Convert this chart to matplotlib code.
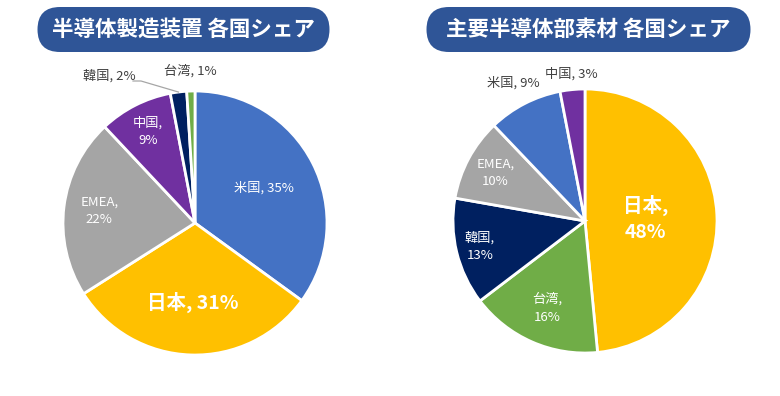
import numpy as np
import matplotlib

matplotlib.use("Agg")
import matplotlib.pyplot as plt
from matplotlib.patches import FancyBboxPatch

plt.rcParams["font.family"] = ["Noto Sans CJK JP", "DejaVu Sans"]

# --- data ---
equip_title = "半導体製造装置 各国シェア"
equip_labels = ["米国", "日本", "EMEA", "中国", "韓国", "台湾"]
equip_values = [35, 31, 22, 9, 2, 1]

material_title = "主要半導体部素材 各国シェア"
material_labels = ["日本", "台湾", "韓国", "EMEA", "米国", "中国"]
material_values = [48, 16, 13, 10, 9, 3]

COLORS = {
    "米国": "#4472C4",
    "日本": "#FFC000",
    "EMEA": "#A5A5A5",
    "中国": "#7030A0",
    "韓国": "#002060",
    "台湾": "#70AD47",
}
PILL = "#2F5597"
DARK = "#404040"

W, H = 780, 396
R = 132


def draw_pie(ax, center, labels, values, label_style):
    wedges, _ = ax.pie(
        values,
        colors=[COLORS[l] for l in labels],
        startangle=90,
        counterclock=False,
        center=center,
        radius=R,
        wedgeprops=dict(edgecolor="white", linewidth=2),
        frame=True,
    )
    for w, lab, val in zip(wedges, labels, values):
        frac, text, big, inside, dx, dy = label_style[lab]
        ang = np.deg2rad((w.theta1 + w.theta2) / 2)
        x = center[0] + frac * R * np.cos(ang) + dx
        y = center[1] + frac * R * np.sin(ang) + dy
        ax.text(
            x, y, text.format(lab=lab, val=val),
            ha="center", va="center",
            color="white" if inside else DARK,
            fontsize=14 if big else 9.5,
            fontweight="bold" if big else "normal",
            linespacing=1.45,
        )
    return wedges


def pill(ax, x0, x1, title):
    y0, y1 = H - 52, H - 7
    h = y1 - y0
    box = FancyBboxPatch(
        (x0 + h / 2, y0), x1 - x0 - h, h,
        boxstyle=f"round,pad=0,rounding_size={h / 2}",
        facecolor=PILL, edgecolor="none",
    )
    ax.add_patch(box)
    ax.text((x0 + x1) / 2, (y0 + y1) / 2, title, ha="center", va="center",
            color="white", fontsize=15.5, fontweight="bold")


fig = plt.figure(figsize=(7.8, 3.96), dpi=100)
ax = fig.add_axes([0, 0, 1, 1])

# frac, text, big, inside, dx, dy
equip_style = {
    "米国": (0.59, "{lab}, {val}%", False, True, 0, 0),
    "日本": (0.6, "{lab}, {val}%", True, True, 0, 0),
    "EMEA": (0.73, "{lab},\n{val}%", False, True, 0, 0),
    "中国": (0.78, "{lab},\n{val}%", False, True, 0, 0),
    "韓国": (1.12, "{lab}, {val}%", False, False, -67, 0),
    "台湾": (1.15, "{lab}, {val}%", False, False, 0, 0),
}
material_style = {
    "日本": (0.46, "{lab},\n{val}%", True, True, 0, 0),
    "台湾": (0.72, "{lab},\n{val}%", False, True, 0, 0),
    "韓国": (0.82, "{lab},\n{val}%", False, True, 0, 0),
    "EMEA": (0.77, "{lab},\n{val}%", False, True, 0, 0),
    "米国": (1.18, "{lab}, {val}%", False, False, 0, 0),
    "中国": (1.12, "{lab}, {val}%", False, False, 0, 0),
}

left_c = (195, H - 223)
right_c = (585, H - 221)
eq_wedges = draw_pie(ax, left_c, equip_labels, equip_values, equip_style)
draw_pie(ax, right_c, material_labels, material_values, material_style)

# leader line for the small 韓国 slice
w = eq_wedges[equip_labels.index("韓国")]
ang = np.deg2rad((w.theta1 + w.theta2) / 2)
ex = left_c[0] + R * np.cos(ang)
ey = left_c[1] + R * np.sin(ang)
ax.plot([133, 141, ex], [H - 81, H - 81, ey], color="#A6A6A6", lw=0.9)

pill(ax, 15, 352, equip_title)
pill(ax, 404, 773, material_title)

ax.set_xlim(0, W)
ax.set_ylim(0, H)
ax.set_aspect("auto")
ax.axis("off")

fig.savefig("out.png", dpi=100, facecolor="white")
